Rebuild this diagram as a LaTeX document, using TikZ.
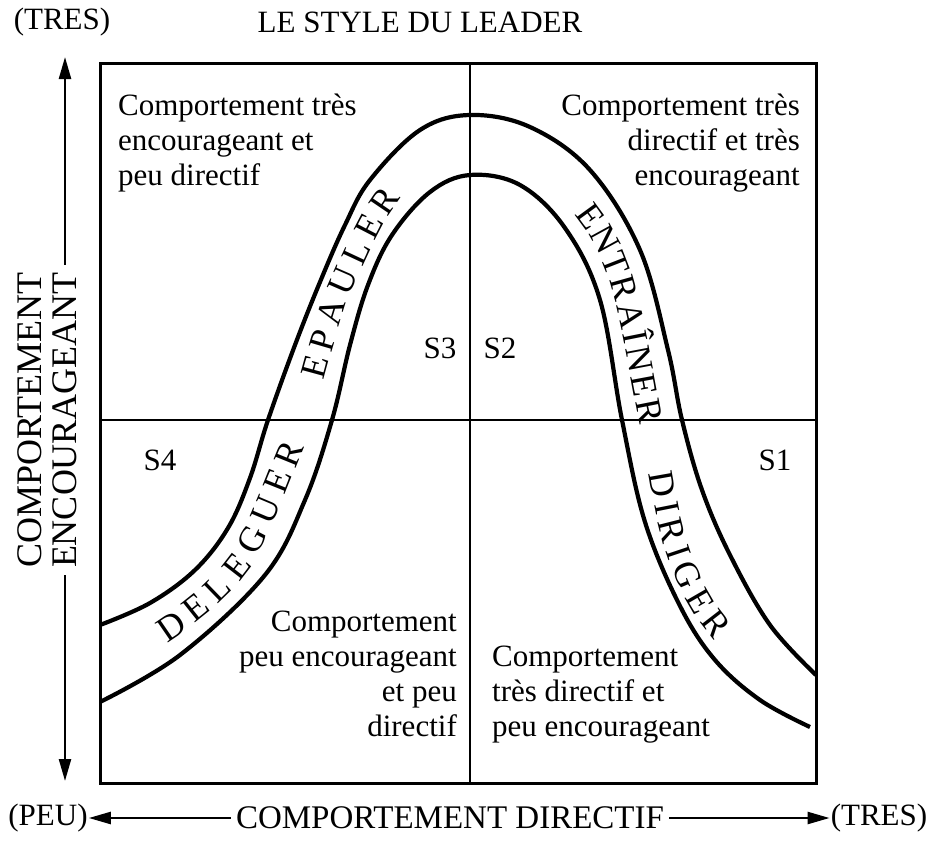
\documentclass[tikz,border=0pt]{standalone}
\usepackage{fontspec}
\setmainfont{Liberation Serif}
\usetikzlibrary{arrows.meta,positioning,decorations.text}
\tikzset{
  txt/.style   ={font=\fontsize{31}{35}\selectfont, inner sep=0pt},
  quad/.style  ={txt, align=left},
  tag/.style   ={txt},
  frame/.style ={line width=3pt},
  divider/.style={line width=2.4pt},
  band/.style  ={line width=4.2pt},
  axis/.style  ={line width=2.4pt},
  arr/.style   ={axis, -{Triangle[length=22pt, width=12pt]}},
}
% lettering inside the band: #1 = extra space before each letter
\newcommand\bandletters[1]{\fontsize{36}{40}\selectfont\kern#1}
% middle line of the band
\def\midline{plot[smooth, tension=0.6] coordinates {(100,663) (170,627) (238,564) (282,470) (300,420) (325,332) (347,272) (395,188) (470,145) (525,155) (578,200) (620,275) (651,420) (675,540) (710,615) (760,665) (812,700)}}
\begin{document}
\begin{tikzpicture}[x=1pt, y=-1pt]
  \useasboundingbox (0,0) rectangle (930,857);
  % heading
  \node[txt] (tres) at (62,22) {(TRES)};
  \node[txt] (title) at (420,22) {LE STYLE DU LEADER};

  % frame and quadrants
  \draw[frame] (100,63) rectangle (816,783);
  \draw[divider] (470,63) -- (470,783);
  \draw[divider] (100,420) -- (816,420);

  % quadrant texts
  \node[quad, anchor=north west] (q3) at (118,94) {Comportement très\\encourageant et\\peu directif};
  \node[quad, anchor=north east, align=right] (q2) at (800,94) {Comportement très\\directif et très\\encourageant};
  \node[quad, anchor=north east, align=right] (q4) at (457,611) {Comportement\\peu encourageant\\et peu\\directif};
  \node[quad, anchor=north west] (q1) at (492,646) {Comportement\\très directif et\\peu encourageant};
  \node[tag] (s3) at (440,348) {S3};
  \node[tag] (s2) at (500,348) {S2};
  \node[tag] (s4) at (160,460) {S4};
  \node[tag] (s1) at (775,460) {S1};

  % the band
  \draw[band] plot[smooth, tension=0.6] coordinates {(100,625) (150,603) (195,570) (228,528) (250,478) (268,420) (295,345) (320,282) (345,225) (370,180) (420,130) (470,115) (530,127) (590,170) (640,250) (668,350) (682,420) (702,490) (730,555) (770,625) (816,675)};
  \draw[band] plot[smooth, tension=0.6] coordinates {(100,702) (180,655) (265,575) (305,500) (332,420) (350,345) (368,285) (392,235) (430,192) (470,175) (520,185) (565,228) (600,300) (622,420) (645,522) (680,606) (715,660) (760,700) (810,727)};
  \path[decorate, decoration={text along path, raise=-12pt, text align={left indent=60pt},
        text={|\bandletters{7pt}|DELEGUER}}] \midline;
  \path[decorate, decoration={text along path, raise=-12pt, text align={left indent=366pt},
        text={|\bandletters{7pt}|EPAULER}}] \midline;
  \path[decorate, decoration={text along path, raise=-12pt, text align={left indent=803pt},
        text={|\bandletters{3pt}|ENTRAÎNER}}] \midline;
  \path[decorate, decoration={text along path, raise=-12pt, text align={left indent=1079pt},
        text={|\bandletters{5pt}|DIRIGER}}] \midline;

  % vertical axis
  \node[txt, font=\fontsize{36}{35}\selectfont, rotate=90, align=center, inner xsep=7pt] (ylab) at (47,420) {COMPORTEMENT\\ENCOURAGEANT};
  \coordinate (ytop) at (65,57);
  \coordinate (ybot) at (65,781);
  \draw[arr] (ylab.east -| ytop) -- (ytop);
  \draw[arr] (ylab.west -| ybot) -- (ybot);

  % horizontal axis
  \node[txt, font=\fontsize{33}{35}\selectfont, inner xsep=5pt] (xlab) at (450,818) {COMPORTEMENT DIRECTIF};
  \node[txt, inner xsep=1pt] (peu) at (48,818) {(PEU)};
  \node[txt, inner xsep=1pt] (tresx) at (879,818) {(TRES)};
  \draw[arr] (xlab.west) -- (peu.east);
  \draw[arr] (xlab.east) -- (tresx.west);
\end{tikzpicture}
\end{document}
